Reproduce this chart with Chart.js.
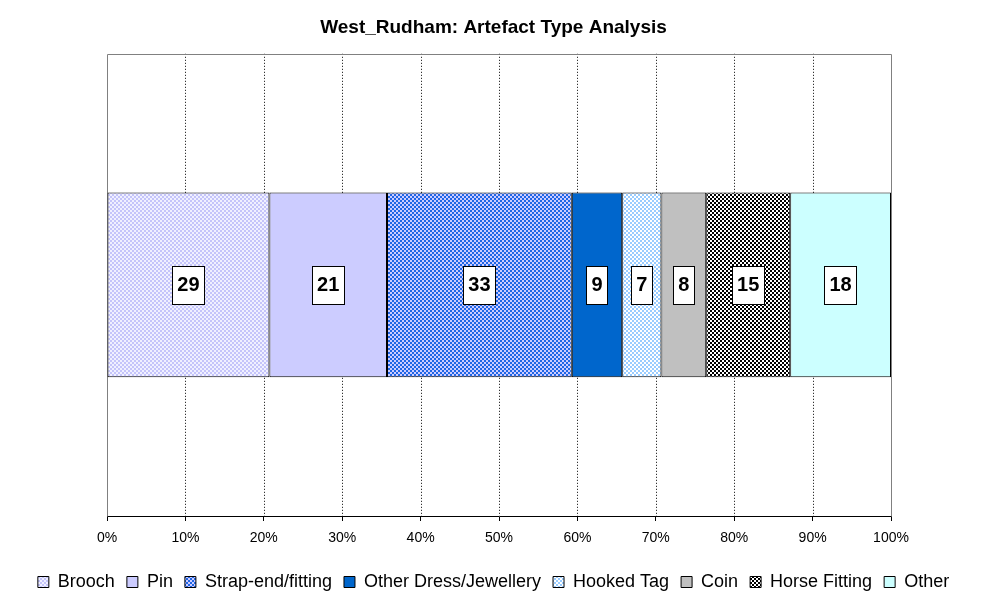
<!DOCTYPE html>
<html>
<head>
<meta charset="utf-8">
<script src="https://cdn.jsdelivr.net/npm/chart.js@4"></script>
<style>
html,body{margin:0;padding:0;background:#fff;}
#wrap{width:987px;height:605px;position:relative;}
</style>
</head>
<body>
<div id="wrap"><canvas id="c" width="987" height="605"></canvas></div>
<script>
const categories = ['West_Rudham'];
const seriesNames = ['Brooch','Pin','Strap-end/fitting','Other Dress/Jewellery','Hooked Tag','Coin','Horse Fitting','Other'];
const seriesValues = [29, 21, 33, 9, 7, 8, 15, 18];
const tickLabels = ['0%','10%','20%','30%','40%','50%','60%','70%','80%','90%','100%'];

function pattern(bg, fg) {
  const c = document.createElement('canvas');
  c.width = 4; c.height = 4;
  const x = c.getContext('2d');
  x.fillStyle = bg; x.fillRect(0,0,4,4);
  x.fillStyle = fg;
  x.fillRect(0,0,2,2); x.fillRect(2,2,2,2);
  return x.createPattern(c, 'repeat');
}
const ctx0 = document.getElementById('c').getContext('2d');
const fills = [
  pattern('#C4C4FA', '#F0F0FF'),
  '#CCCCFF',
  pattern('#CCCCFF', '#1F66E5'),
  '#0066CC',
  pattern('#FFFFFF', '#99CCFF'),
  '#C0C0C0',
  pattern('#FFFFFF', '#000000'),
  '#CCFFFF'
];

const total = seriesValues.reduce((a,b)=>a+b,0);
const datasets = seriesNames.map((n,i)=>({
  label: n,
  data: [seriesValues[i] / total * 100],
  raw: seriesValues[i],
  backgroundColor: fills[i],
  borderColor: '#000',
  borderWidth: 1,
  borderSkipped: false,
  barPercentage: 0.4,
  categoryPercentage: 1.0
}));

const FONT = '"Liberation Sans", Arial, sans-serif';

const decor = {
  id: 'decor',
  beforeDatasetsDraw(chart) {
    const {ctx, chartArea: a, scales: {x}} = chart;
    ctx.save();
    ctx.strokeStyle = '#000';
    ctx.lineWidth = 1;
    ctx.setLineDash([1,2]);
    for (let v = 10; v < 100; v += 10) {
      const px = Math.round(x.getPixelForValue(v)) + 0.5;
      ctx.beginPath(); ctx.moveTo(px, a.top); ctx.lineTo(px, a.bottom); ctx.stroke();
    }
    ctx.setLineDash([]);
    ctx.strokeStyle = '#808080';
    ctx.beginPath();
    ctx.moveTo(Math.round(a.left)+0.5, Math.round(a.bottom)+0.5);
    ctx.lineTo(Math.round(a.left)+0.5, Math.round(a.top)+0.5);
    ctx.lineTo(Math.round(a.right)+0.5, Math.round(a.top)+0.5);
    ctx.lineTo(Math.round(a.right)+0.5, Math.round(a.bottom)+0.5);
    ctx.stroke();
    ctx.restore();
  },
  afterDatasetsDraw(chart) {
    const {ctx} = chart;
    ctx.save();
    ctx.font = 'bold 20px ' + FONT;
    ctx.textAlign = 'center';
    ctx.textBaseline = 'middle';
    chart.data.datasets.forEach((ds, i) => {
      const el = chart.getDatasetMeta(i).data[0];
      const cx = (el.x + el.base) / 2;
      const cy = el.y;
      const t = String(ds.raw);
      const w = ctx.measureText(t).width + 10;
      const h = 38;
      const bx = Math.round(cx - w/2) + 0.5, by = Math.round(cy - h/2) + 0.5;
      ctx.fillStyle = '#fff';
      ctx.fillRect(bx, by, Math.round(w), h);
      ctx.strokeStyle = '#000';
      ctx.lineWidth = 1;
      ctx.strokeRect(bx, by, Math.round(w), h);
      ctx.fillStyle = '#000';
      ctx.fillText(t, cx, cy + 1);
    });
    ctx.restore();
  }
};

new Chart(ctx0, {
  type: 'bar',
  data: { labels: categories, datasets },
  options: {
    indexAxis: 'y',
    responsive: false,
    animation: false,
    devicePixelRatio: 1,
    layout: { padding: { left: 0, right: 0, top: 0, bottom: 4 } },
    scales: {
      x: {
        stacked: true,
        min: 0, max: 100,
        ticks: {
          stepSize: 10,
          color: '#000',
          font: { family: FONT, size: 14 },
          padding: 9,
          maxRotation: 0,
          callback: (v, i) => tickLabels[i]
        },
        grid: { drawOnChartArea: false, drawTicks: true, tickLength: 5, color: '#000' },
        border: { display: true, color: '#000', width: 1 },
        afterFit(s) { s.height = 45; }
      },
      y: {
        stacked: true,
        display: true,
        ticks: { display: false },
        grid: { display: false, drawTicks: false },
        border: { display: false },
        afterFit(s) { s.width = 107; }
      },
      y2: {
        type: 'linear',
        position: 'right',
        display: true,
        ticks: { display: false },
        grid: { display: false, drawTicks: false },
        border: { display: false },
        afterFit(s) { s.width = 96; }
      }
    },
    plugins: {
      title: {
        display: true,
        text: 'West_Rudham: Artefact Type Analysis',
        color: '#000',
        font: { family: FONT, size: 19, weight: 'bold' },
        padding: { top: 16, bottom: 15 }
      },
      legend: {
        position: 'bottom',
        labels: {
          color: '#000',
          boxWidth: 11,
          boxHeight: 11,
          padding: 12,
          font: { family: FONT, size: 18 }
        }
      },
      tooltip: { enabled: false }
    }
  },
  plugins: [decor]
});
</script>
</body>
</html>
